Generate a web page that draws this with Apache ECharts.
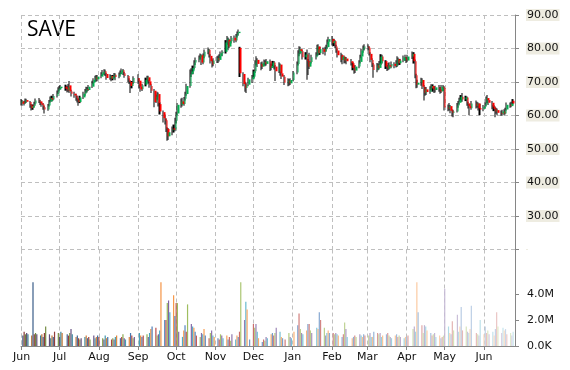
<!DOCTYPE html>
<html><head><meta charset="utf-8">
<script src="https://cdn.jsdelivr.net/npm/echarts@6/dist/echarts.min.js"></script>
<style>html,body{margin:0;padding:0;background:#fff}#c{width:570px;height:370px}</style>
</head><body><div id="c"></div>
<script>
const ticker = 'SAVE';
const monthLabels = ['Jan','Feb','Mar','Apr','May','Jun','Jul','Aug','Sep','Oct','Nov','Dec'];
const priceTicks = [20, 30, 40, 50, 60, 70, 80, 90];
const volumeTicks = [0, 2000000, 4000000];

// trading days, by month
const tradingDays = [
  ['2014-06', [2,3,4,5,6,9,10,11,12,13,16,17,18,19,20,23,24,25,26,27,30]],
  ['2014-07', [1,2,3,7,8,9,10,11,14,15,16,17,18,21,22,23,24,25,28,29,30,31]],
  ['2014-08', [1,4,5,6,7,8,11,12,13,14,15,18,19,20,21,22,25,26,27,28,29]],
  ['2014-09', [2,3,4,5,8,9,10,11,12,15,16,17,18,19,22,23,24,25,26,29,30]],
  ['2014-10', [1,2,3,6,7,8,9,10,13,14,15,16,17,20,21,22,23,24,27,28,29,30,31]],
  ['2014-11', [3,4,5,6,7,10,11,12,13,14,17,18,19,20,21,24,25,26,28]],
  ['2014-12', [1,2,3,4,5,8,9,10,11,12,15,16,17,18,19,22,23,24,26,29,30,31]],
  ['2015-01', [2,5,6,7,8,9,12,13,14,15,16,20,21,22,23,26,27,28,29,30]],
  ['2015-02', [2,3,4,5,6,9,10,11,12,13,17,18,19,20,23,24,25,26,27]],
  ['2015-03', [2,3,4,5,6,9,10,11,12,13,16,17,18,19,20,23,24,25,26,27,30,31]],
  ['2015-04', [1,2,6,7,8,9,10,13,14,15,16,17,20,21,22,23,24,27,28,29,30]],
  ['2015-05', [1,4,5,6,7,8,11,12,13,14,15,18,19,20,21,22,26,27,28,29]],
  ['2015-06', [1,2,3,4,5,8,9,10,11,12,15,16,17,18,19,22,23,24]]
];

// [open, close, low, high]
const ohlc = [
  // Jun 2014
  [63.8,64.2,63.0,64.9],[64.2,63.5,62.9,64.6],[63.5,63.9,63.0,64.4],[64.0,64.6,63.5,65.1],[64.6,64.1,63.7,65.0],
  [64.0,63.0,62.3,64.3],[63.0,62.2,61.5,63.4],[62.3,62.8,61.7,63.3],[62.8,63.6,62.4,64.1],[63.6,64.5,63.3,65.1],
  [64.5,64.2,63.7,65.2],[64.2,63.6,63.1,64.7],[63.6,63.2,62.6,64.1],[63.3,62.5,61.7,63.7],[62.5,61.8,60.6,62.9],
  [61.8,63.0,61.4,63.4],[63.0,64.2,62.7,64.6],[64.2,65.2,63.9,65.7],[65.2,64.8,64.2,65.9],[64.8,65.8,64.5,66.4],
  [65.8,66.8,65.4,67.5],
  // Jul
  [66.8,67.8,66.4,68.4],[67.8,68.2,67.2,68.8],[68.2,68.6,67.7,69.1],
  [68.6,68.0,67.4,69.2],[68.2,67.5,66.9,68.9],[67.5,68.5,67.1,69.4],[69.0,67.2,66.7,70.3],[67.2,66.5,65.7,67.7],
  [66.5,66.0,65.3,67.1],[66.0,65.2,64.4,66.5],[65.2,64.6,63.9,65.9],[64.6,64.0,62.9,65.1],[64.0,65.4,63.7,65.9],
  [65.4,66.5,64.9,67.1],[66.5,67.3,65.9,67.9],[67.3,67.9,66.8,68.6],[67.9,67.6,66.9,68.5],[67.6,68.6,67.3,69.1],
  [68.6,69.8,68.2,70.4],[69.8,70.6,69.3,71.1],[70.6,71.4,70.1,71.9],[71.4,70.8,70.1,72.1],
  // Aug
  [70.8,71.6,70.2,72.1],
  [71.6,72.4,71.1,72.9],[72.4,72.9,71.8,73.6],[72.8,73.2,72.1,73.8],[73.2,72.4,71.8,73.7],[72.4,71.2,70.7,72.7],
  [71.2,71.8,70.7,72.3],[71.8,71.0,70.2,72.1],[71.0,71.6,70.5,72.1],[71.6,72.2,71.1,72.7],[72.2,71.5,70.5,72.6],
  [71.5,72.3,71.1,72.8],[72.3,72.9,71.9,73.4],[72.9,73.5,72.4,74.0],[73.5,72.6,72.1,73.9],[72.6,71.8,71.3,73.0],
  [71.8,70.6,69.9,72.1],[70.6,70.0,69.4,71.1],[70.0,68.8,66.7,70.4],[68.8,69.8,68.1,70.3],[69.8,71.2,69.4,71.7],
  // Sep
  [71.2,70.2,69.5,72.3],[70.4,68.6,68.1,71.1],[68.6,67.8,67.1,69.3],[67.8,69.0,67.3,69.5],
  [69.2,70.6,68.7,71.3],[70.6,71.4,70.1,71.9],[71.4,70.2,69.5,71.9],[70.2,69.0,68.3,70.7],[68.8,67.4,66.7,69.3],
  [67.4,64.0,62.5,67.9],[64.2,65.6,63.7,66.3],[65.6,66.4,64.7,67.1],[66.4,63.6,62.7,66.9],[63.4,61.2,60.3,63.9],
  [61.0,59.2,57.9,61.5],[59.2,58.4,57.3,60.3],[58.6,56.0,55.1,59.1],[56.0,53.8,52.5,56.5],[53.8,55.0,52.7,56.3],
  [55.6,55.8,54.1,56.7],[56.2,55.8,54.9,57.3],
  // Oct
  [55.8,58.4,55.3,59.3],[58.4,60.6,57.7,61.1],[60.6,63.2,60.1,63.7],
  [63.2,64.2,62.3,65.1],[64.2,63.4,62.7,65.3],[63.4,65.0,62.9,65.5],[65.0,66.4,64.5,67.1],[66.4,68.8,65.9,69.5],
  [68.8,72.4,68.3,73.7],[72.4,73.2,71.5,74.1],[73.2,74.2,72.3,74.9],[74.2,75.8,73.7,76.5],[75.8,76.6,75.1,77.3],
  [76.6,77.4,75.9,77.9],[77.4,78.0,76.7,78.5],[78.0,75.8,75.1,78.3],[75.8,77.8,75.3,78.5],[77.6,79.0,77.1,79.7],
  [79.0,79.6,78.3,80.3],[79.6,77.8,77.3,79.9],[77.8,76.2,75.5,78.3],[76.2,75.2,74.3,76.7],[75.4,76.4,74.7,77.1],
  // Nov
  [76.4,77.2,75.7,77.7],[77.2,76.6,75.7,77.9],[76.6,77.8,76.1,78.3],[77.8,78.6,77.1,79.1],[78.6,79.0,77.7,79.5],
  [79.0,81.8,78.5,82.5],[81.8,83.0,81.1,83.7],[82.6,80.6,79.5,83.3],[80.6,82.2,80.1,82.9],[82.2,83.2,81.5,83.7],
  [83.2,82.4,81.7,83.9],[82.4,83.8,81.9,84.3],[83.8,84.6,83.3,85.1],[84.6,85.0,83.9,85.7],[80.2,72.6,71.5,80.5],
  [72.4,69.4,68.7,72.9],[69.4,68.2,67.1,70.1],[68.2,69.2,66.7,69.7],[69.2,70.8,68.7,71.3],
  // Dec
  [70.8,71.6,69.7,72.1],[71.6,73.2,71.1,73.7],[73.2,75.8,72.7,76.5],[75.8,76.6,74.9,77.7],[76.6,75.4,74.5,77.1],
  [75.4,74.6,73.5,75.9],[74.6,75.6,73.9,76.1],[75.6,76.0,74.9,76.7],[76.0,75.4,74.7,76.5],[75.4,76.2,74.9,76.9],
  [76.2,74.2,73.3,76.7],[74.2,74.8,73.5,75.5],[74.8,75.8,74.3,76.3],[75.8,74.6,73.7,76.3],[74.6,73.2,70.3,75.1],
  [73.2,75.2,72.7,75.9],[75.2,72.6,71.9,75.5],[72.6,71.6,70.9,73.1],[71.6,69.8,69.1,72.1],
  [69.8,70.4,68.7,71.1],[70.4,69.6,68.9,70.9],[69.6,70.6,69.1,71.1],
  // Jan 2015
  [70.6,72.8,70.3,73.3],
  [72.8,75.4,72.3,76.1],[75.4,78.6,74.9,79.5],[78.6,79.8,77.7,80.7],[79.8,79.2,78.3,80.5],[79.2,77.4,76.7,79.7],
  [77.4,78.2,76.7,78.9],[78.2,76.2,70.7,79.7],[76.2,74.6,72.1,76.9],[74.6,76.0,73.9,78.7],[76.0,77.4,75.5,78.1],
  [77.4,78.2,76.7,78.9],[78.2,80.6,77.7,81.1],[80.6,78.6,77.9,81.3],[78.6,79.8,78.1,80.5],
  [79.8,79.0,78.3,80.3],[79.0,79.8,77.9,80.5],[79.8,80.4,79.1,81.1],[80.4,82.0,79.9,82.7],[82.0,82.8,81.3,83.5],
  // Feb
  [82.8,81.6,80.9,83.7],[81.6,82.2,80.7,82.9],[82.2,80.6,80.1,82.5],[80.6,79.4,78.7,81.1],[79.4,78.0,77.3,79.9],
  [78.0,76.6,75.9,78.7],[76.6,77.6,75.3,78.3],[77.6,76.4,75.5,77.9],[76.4,77.0,75.7,77.5],[77.0,76.2,75.3,77.5],
  [76.2,75.6,74.9,76.9],[75.6,74.2,73.5,75.9],[74.2,73.4,72.5,74.9],[73.4,74.6,72.7,75.1],
  [74.6,76.0,74.1,76.5],[76.0,77.6,75.5,78.1],[77.6,79.4,77.1,79.9],[79.4,80.2,78.7,80.9],[80.2,80.6,79.5,81.3],
  // Mar
  [80.6,80.2,79.5,81.3],[80.2,78.4,77.9,80.7],[78.4,76.6,75.9,78.9],[76.6,75.2,74.5,77.1],[75.2,73.6,71.3,75.7],
  [73.6,75.0,72.9,75.7],[75.0,74.2,73.5,75.5],[74.2,75.6,73.7,76.3],[75.6,77.6,75.1,78.3],[77.6,76.2,75.5,78.1],
  [76.2,74.6,73.9,76.5],[74.6,74.0,73.3,75.1],[74.0,75.0,73.5,75.7],[75.0,74.6,73.7,75.9],[74.6,75.4,74.1,76.1],
  [75.4,74.8,74.1,75.9],[74.8,75.8,74.3,76.5],[75.8,76.8,74.5,77.7],[76.8,75.6,74.9,77.3],[75.6,76.4,75.1,76.9],
  [76.4,77.4,75.9,77.9],[77.4,77.0,76.3,78.1],
  // Apr
  [77.0,76.4,75.7,77.5],[76.4,77.6,75.9,78.1],
  [77.6,78.4,76.9,79.1],[78.4,76.2,75.5,78.9],[76.2,72.0,71.1,76.7],[72.0,69.2,68.1,72.5],[69.2,69.8,68.3,70.7],
  [69.8,70.6,68.9,71.3],[70.6,68.6,67.9,71.1],[68.6,66.8,64.5,69.1],[66.8,67.8,65.9,68.5],[67.8,67.0,66.1,68.5],
  [67.0,68.2,66.5,68.7],[68.2,68.8,67.5,69.3],[68.8,68.0,67.1,69.3],[68.0,67.6,66.7,68.7],[67.6,68.4,66.9,68.9],
  [68.4,67.8,67.1,69.1],[67.8,67.2,66.5,68.5],[67.2,68.6,66.7,69.1],[68.6,68.2,67.3,69.1],
  // May
  [68.2,62.4,61.5,68.7],
  [62.4,62.0,61.3,63.3],[62.0,62.8,61.5,63.7],[62.8,61.4,60.7,63.1],[61.4,60.8,59.7,61.9],[60.8,61.2,59.5,61.7],
  [61.2,63.0,60.9,63.7],[63.0,63.8,62.3,64.3],[63.8,64.8,63.3,65.3],[64.8,65.6,64.1,66.1],[65.6,64.8,64.1,66.7],
  [64.8,65.4,64.3,65.9],[65.4,63.6,62.9,65.7],[63.6,62.8,62.1,64.1],[62.8,62.2,60.1,63.5],[62.2,63.6,61.7,64.3],
  [63.6,62.8,62.1,64.5],[62.8,63.6,62.3,64.1],[63.6,62.2,61.5,63.9],[62.2,61.8,60.1,63.5],
  // Jun 2015
  [62.0,62.6,61.3,63.1],[62.6,63.4,62.1,63.9],[63.4,65.2,62.9,65.7],[65.2,64.6,63.7,66.1],[64.6,63.8,63.1,65.1],
  [63.8,62.6,61.9,64.3],[62.6,62.0,61.3,63.1],[62.0,61.2,59.5,62.7],[61.2,61.6,60.5,62.3],[61.6,60.8,60.1,62.1],
  [60.8,60.6,59.9,61.5],[60.6,61.2,59.9,61.7],[61.2,60.6,60.1,61.9],[60.6,61.8,60.3,62.3],[61.8,63.2,61.5,63.9],
  [63.2,62.8,62.3,63.9],[62.8,63.6,62.5,64.1],[64.4,63.6,63.3,64.9]
];

// volume, millions of shares
const volumeM = [
  0.8,1.1,0.9,1.0,0.9, 0.8,4.9,0.9,1.0,0.9, 0.8,0.9,0.7,1.0,1.5, 0.9,0.6,0.8,0.7,1.1, 1.0,
  0.7,1.1,1.0, 0.9,0.8,1.0,1.3,0.9, 0.7,0.8,0.6,0.5,0.6, 0.7,0.8,0.6,0.7,0.5, 0.8,0.6,0.7,0.8,
  0.7, 0.6,0.5,0.8,0.6,0.7, 0.5,0.6,0.5,0.7,0.8, 0.6,0.7,0.9,0.6,0.5, 0.7,1.0,0.8,0.6,0.7,
  1.0,0.8,0.7,0.8, 0.9,0.7,1.0,1.3,1.5, 1.4,0.8,0.9,1.2,4.9, 2.0,2.0,3.3,3.5,2.6, 3.9,2.3,
  3.3,3.3,1.1, 0.7,1.2,1.6,1.1,3.2, 1.7,1.5,1.4,1.1,0.8, 0.7,1.0,0.9,1.3,0.8, 0.6,1.0,1.2,0.8,0.7,
  0.6,0.5,0.9,0.8,0.6, 0.8,0.5,0.7,0.4,0.9, 0.5,0.8,0.7,1.1,4.9, 2.0,3.4,2.8,0.5,
  1.7,1.4,1.7,1.1,0.6, 0.3,0.5,0.4,0.7,0.6, 0.9,1.0,0.8,1.0,1.4, 1.1,0.7,0.6,0.5, 1.0,0.7,0.6,
  1.1, 1.6,2.5,1.3,1.0,0.9, 1.2,1.7,1.7,1.2,1.0, 1.4,1.3,2.6,2.0, 1.4,0.8,1.0,1.2,1.0,
  1.0,0.9,1.0,0.9,0.8, 0.7,0.9,1.8,1.3,0.7, 0.6,0.7,0.8,0.7, 0.9,0.8,0.7,0.9,0.8,
  0.8,1.0,0.7,0.7,1.1, 1.0,0.9,1.0,0.7,0.8, 0.9,1.0,0.8,0.7,0.6, 0.8,0.9,0.7,0.8,0.7, 0.6,0.7,
  0.7,0.8, 1.3,1.5,1.1,4.9,2.6, 1.6,1.0,1.6,1.5,1.2, 1.0,0.8,0.9,1.0,0.7, 0.8,0.6,0.7,0.8,
  4.4, 1.5,1.0,0.9,1.9,1.2, 2.4,1.1,1.5,3.0,1.2, 1.5,1.1,1.0,1.3,3.1, 1.0,0.9,0.8,2.0,
  0.9,1.5,1.0,1.2,0.9, 1.1,0.8,1.3,2.6,1.5, 1.0,1.4,1.2,1.3,0.9, 1.0,0.8,1.1
];

// ---- build ----
const dates = [];
tradingDays.forEach(([m, days]) => days.forEach(d => dates.push(m + '-' + String(d).padStart(2, '0'))));

const bodyData = dates.map((d, i) => {
  const [o, c] = ohlc[i];
  return [d, o, c, Math.min(o, c), Math.max(o, c)];
});
const wickData = dates.map((d, i) => {
  const [o, c, l, h] = ohlc[i];
  return [d, l, h, l, h];
});

const accent = ['#4F81BD', '#C0504D', '#9BBB59', '#8064A2', '#4BACC6', '#F79646'];
function tone(hex, s) {
  const n = parseInt(hex.slice(1), 16);
  const f = c => s < 0 ? Math.round(c * (1 + s)) : Math.round(c + (255 - c) * s);
  return 'rgb(' + f(n >> 16) + ',' + f((n >> 8) & 255) + ',' + f(n & 255) + ')';
}
const N = dates.length;
const volData = dates.map((d, i) => ({
  value: [d, volumeM[i] * 1e6],
  itemStyle: { color: tone(accent[i % 6], -0.3 + 1.0 * i / (N - 1)) }
}));

const DAY = 864e5;
const t0 = new Date(2014, 5, 1).getTime();
const t1 = new Date(2015, 5, 25).getTime();
const wickShift = 0.95 * DAY;   // draws high-low line ~1px left of the body

const gridLine = { show: true, lineStyle: { color: '#BFBFBF', type: [4, 3], width: 1 } };
const axisGray = '#868686';
const font = 'DejaVu Sans';

const chart = echarts.init(document.getElementById('c'), null, { renderer: 'canvas' });
chart.setOption({
  animation: false,
  backgroundColor: '#fff',
  graphic: [{
    type: 'text', left: 27, top: 20,
    style: { text: ticker, font: '21px "Open Sans"', fill: '#000' }
  }],
  grid: [
    { left: 21, right: 55, top: 15, height: 234.5 },
    { left: 21, right: 55, top: 249.5, bottom: 24 }
  ],
  xAxis: [
    {
      type: 'time', gridIndex: 0, min: t0, max: t1,
      splitNumber: 13, minInterval: 28 * DAY, maxInterval: 31 * DAY,
      axisLine: { show: false }, axisTick: { show: false }, axisLabel: { show: false },
      splitLine: gridLine
    },
    {
      type: 'time', gridIndex: 1, min: t0, max: t1,
      splitNumber: 13, minInterval: 28 * DAY, maxInterval: 31 * DAY,
      axisLine: { show: true, lineStyle: { color: axisGray } },
      axisTick: { show: true, length: 4, lineStyle: { color: axisGray } },
      axisLabel: {
        fontFamily: font, fontSize: 11, color: '#111', margin: 6,
        formatter: v => monthLabels[new Date(v).getMonth()]
      },
      splitLine: gridLine
    },
    {
      type: 'time', gridIndex: 0, min: t0 + wickShift, max: t1 + wickShift, show: false,
      splitLine: { show: false }
    }
  ],
  yAxis: [
    {
      type: 'value', gridIndex: 0, position: 'right', min: 20, max: 90, interval: 10,
      axisLine: { show: true, lineStyle: { color: axisGray } },
      axisTick: { show: true, length: 4, lineStyle: { color: axisGray } },
      axisLabel: {
        fontFamily: font, fontSize: 11, color: '#111', margin: 11,
        backgroundColor: '#EEECE1', padding: [1, 1, 0, 1],
        formatter: v => v === 20 ? '' : v.toFixed(2)
      },
      splitLine: gridLine
    },
    {
      type: 'value', gridIndex: 1, position: 'right', min: 0, max: 7420000,
      axisLine: { show: true, lineStyle: { color: axisGray } },
      axisTick: { show: true, length: 4, customValues: volumeTicks, lineStyle: { color: axisGray } },
      axisLabel: {
        fontFamily: font, fontSize: 11, color: '#111', margin: 12, customValues: volumeTicks,
        formatter: v => v === 0 ? '0.0K' : (v / 1e6).toFixed(1) + 'M'
      },
      splitLine: { show: false }
    }
  ],
  series: [
    {
      type: 'bar', xAxisIndex: 1, yAxisIndex: 1, barWidth: 1.2,
      data: volData
    },
    {
      type: 'candlestick', xAxisIndex: 2, yAxisIndex: 0, barWidth: 1.6,
      encode: { x: 0, y: [1, 2, 3, 4] },
      itemStyle: { color: '#000', color0: '#000', borderColor: '#000', borderColor0: '#000', borderWidth: 0 },
      data: wickData
    },
    {
      type: 'candlestick', xAxisIndex: 0, yAxisIndex: 0, barWidth: 2,
      encode: { x: 0, y: [1, 2, 3, 4] },
      itemStyle: { color: '#00B050', color0: '#FF0000', borderColor: '#00B050', borderColor0: '#FF0000', borderWidth: 0 },
      data: bodyData
    }
  ]
});
</script>
</body></html>
